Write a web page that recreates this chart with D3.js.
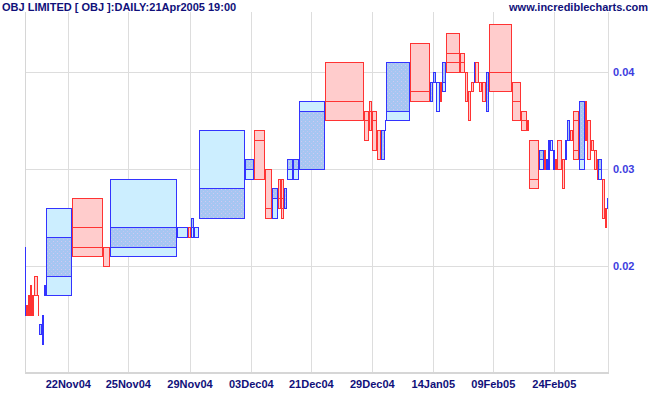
<!DOCTYPE html>
<html><head><meta charset="utf-8">
<script src="https://cdn.jsdelivr.net/npm/d3@7"></script>
<style>body{margin:0;background:#fff}svg{display:block}text{font-family:Arial,"Liberation Sans",sans-serif;font-weight:bold;font-size:11px}</style>
</head><body><svg id="c" width="651" height="395"></svg>
<script>
// volume ('000 shares) per candle
const volumes = [10,15,20,20,25,40,10,30,20,20,
 258,308,74,665,112,31,35,47,457,91,
 108,71,60,30,35,31,60,57,260,390,
 47,33,53,37,40,13,235,207,25,27,
 40,26,39,141,47,28,35,27,13,35,
 29,38,33,232,87,60,23,98,49,23,
 23,20,30,12,23,47,32,23,27,33,
 55,65,17,40,36,25,15,32,35,17,13];
const opens = [.015,.016,.017,.018,.017,.019,.017,.013,.012,.017,
 .019,.024,.022,.022,.024,.024,.024,.024,.025,.030,
 .033,.030,.027,.027,.027,.026,.030,.030,.030,.041,
 .036,.036,.036,.034,.031,.034,.036,.043,.037,.039,
 .039,.039,.039,.042,.041,.040,.038,.039,.039,.041,
 .039,.039,.036,.045,.039,.036,.035,.033,.031,.032,
 .030,.031,.032,.030,.031,.033,.031,.031,.033,.034,
 .035,.031,.037,.035,.033,.032,.031,.030,.029,.026,.026];
const highs = [.022,.016,.017,.018,.017,.019,.017,.014,.015,.018,
 .026,.027,.022,.029,.024,.024,.025,.024,.034,.031,
 .034,.030,.028,.029,.029,.028,.031,.031,.037,.041,
 .036,.037,.036,.034,.034,.035,.041,.043,.039,.040,
 .039,.039,.041,.044,.042,.040,.038,.039,.041,.041,
 .039,.039,.040,.045,.039,.036,.035,.033,.032,.032,
 .031,.033,.033,.032,.031,.033,.031,.033,.035,.034,
 .036,.037,.037,.035,.033,.032,.031,.031,.029,.026,.027];
const lows = [.015,.015,.015,.015,.015,.017,.015,.013,.012,.017,
 .017,.021,.020,.021,.023,.023,.023,.023,.025,.029,
 .029,.025,.025,.026,.025,.026,.029,.029,.030,.035,
 .033,.034,.032,.031,.031,.034,.035,.037,.037,.039,
 .036,.037,.038,.040,.040,.037,.035,.038,.039,.039,
 .038,.037,.036,.038,.035,.034,.034,.028,.030,.030,
 .030,.030,.032,.030,.030,.030,.028,.031,.033,.033,
 .031,.030,.033,.031,.032,.030,.029,.029,.025,.024,.026];
const closes = [.022,.015,.015,.015,.016,.017,.015,.014,.015,.018,
 .023,.022,.020,.024,.024,.023,.025,.024,.028,.031,
 .029,.026,.028,.026,.026,.028,.031,.031,.036,.037,
 .035,.034,.035,.031,.034,.035,.041,.038,.039,.040,
 .039,.037,.041,.041,.040,.037,.035,.038,.041,.039,
 .038,.037,.040,.040,.037,.035,.034,.029,.032,.030,
 .031,.033,.032,.032,.030,.030,.028,.033,.035,.033,
 .032,.037,.033,.031,.032,.030,.030,.031,.025,.024,.027];
// date labels at cumulative-volume positions
const tickLabels = ["22Nov04","25Nov04","29Nov04","03Dec04","21Dec04","29Dec04","14Jan05","09Feb05","24Feb05"];
const tickVolumes = [433,1033,1650,2263,2863,3473,4083,4683,5293];
const priceTicks = [0.02,0.03,0.04];
const title = "OBJ LIMITED [ OBJ ]:DAILY:21Apr2005 19:00";
const site = "www.incrediblecharts.com";

const svg = d3.select("#c");
const total = d3.sum(volumes);
const x = d3.scaleLinear().domain([0,total]).range([25,608]);
const y = d3.scaleLinear().domain([0.02,0.04]).range([266,72]);
const plotTop = 12, plotBottom = 372;

const defs = svg.append("defs");
const pat = defs.append("pattern").attr("id","dots").attr("width",4).attr("height",4).attr("patternUnits","userSpaceOnUse");
pat.append("rect").attr("width",4).attr("height",4).attr("fill","#a6c6f2");
pat.append("rect").attr("x",1).attr("y",1).attr("width",1).attr("height",1).attr("fill","#d2c8f2");
pat.append("rect").attr("x",3).attr("y",3).attr("width",1).attr("height",1).attr("fill","#c4c4f2");

// grid
const g = svg.append("g").attr("shape-rendering","crispEdges");
g.selectAll(".hg").data(priceTicks).join("line")
 .attr("x1",25).attr("x2",608).attr("y1",d=>Math.round(y(d))+0.5).attr("y2",d=>Math.round(y(d))+0.5)
 .attr("stroke","#dddddd");
g.selectAll(".vg").data(tickVolumes.concat([total])).join("line")
 .attr("x1",d=>Math.round(x(d))+0.5).attr("x2",d=>Math.round(x(d))+0.5).attr("y1",plotTop).attr("y2",plotBottom)
 .attr("stroke","#dddddd");
g.append("line").attr("x1",25.5).attr("x2",25.5).attr("y1",plotTop).attr("y2",plotBottom+1).attr("stroke","#d6d6d6").attr("stroke-width",1);
g.append("rect").attr("x",25).attr("y",plotBottom).attr("width",x(total)-25+1).attr("height",2).attr("fill","#d6d6d6");

// candles
const candles = volumes.map((v,i)=>({v,o:opens[i],h:highs[i],l:lows[i],c:closes[i]}));
let cum = 0;
candles.forEach(d=>{d.x0 = x(cum); cum += d.v; d.x1 = x(cum);});
const ry = p => Math.round(y(p)) + 0.5;
const cg = svg.append("g").attr("shape-rendering","crispEdges");
candles.forEach(d=>{
  const up = d.c >= d.o;
  const stroke = up ? "#3333ff" : "#ff3333";
  const light = up ? "#cceeff" : "#ffcccc";
  const a = Math.round(d.x0)+0.5, b = Math.round(d.x1)-0.5;
  const yh = ry(d.h), yl = ry(d.l);
  if (b - a < 1) {
    cg.append("rect").attr("x",Math.round(d.x0)).attr("y",yh-0.5).attr("width",Math.max(1,Math.round(d.x1)-Math.round(d.x0)))
      .attr("height",Math.max(1,yl-yh+1)).attr("fill",stroke);
    return;
  }
  cg.append("rect").attr("x",a).attr("y",yh).attr("width",b-a).attr("height",Math.max(0,yl-yh))
    .attr("fill",light).attr("stroke",stroke).attr("stroke-width",1);
  const yo = ry(d.o), yc = ry(d.c);
  const bt = Math.min(yo,yc), bb = Math.max(yo,yc);
  if (up) {
    if (bb > bt) cg.append("rect").attr("x",a).attr("y",bt).attr("width",b-a).attr("height",bb-bt)
      .attr("fill","url(#dots)").attr("stroke",stroke).attr("stroke-width",1);
  } else {
    [yo,yc].forEach(yy=>cg.append("line").attr("x1",a).attr("x2",b).attr("y1",yy).attr("y2",yy).attr("stroke",stroke));
  }
});

// axes text
svg.selectAll(".yl").data(priceTicks).join("text")
 .attr("x",613).attr("y",d=>y(d)+4).attr("fill","#3d3de0").text(d=>d3.format(".2f")(d));
svg.selectAll(".xl").data(tickVolumes).join("text")
 .attr("x",d=>x(d)).attr("y",388).attr("text-anchor","middle").attr("fill","#10107a").text((d,i)=>tickLabels[i]);
svg.append("text").attr("x",2).attr("y",11).attr("fill","#10107a").text(title);
svg.append("text").attr("x",648).attr("y",11).attr("text-anchor","end").attr("fill","#10107a").text(site);
</script></body></html>
